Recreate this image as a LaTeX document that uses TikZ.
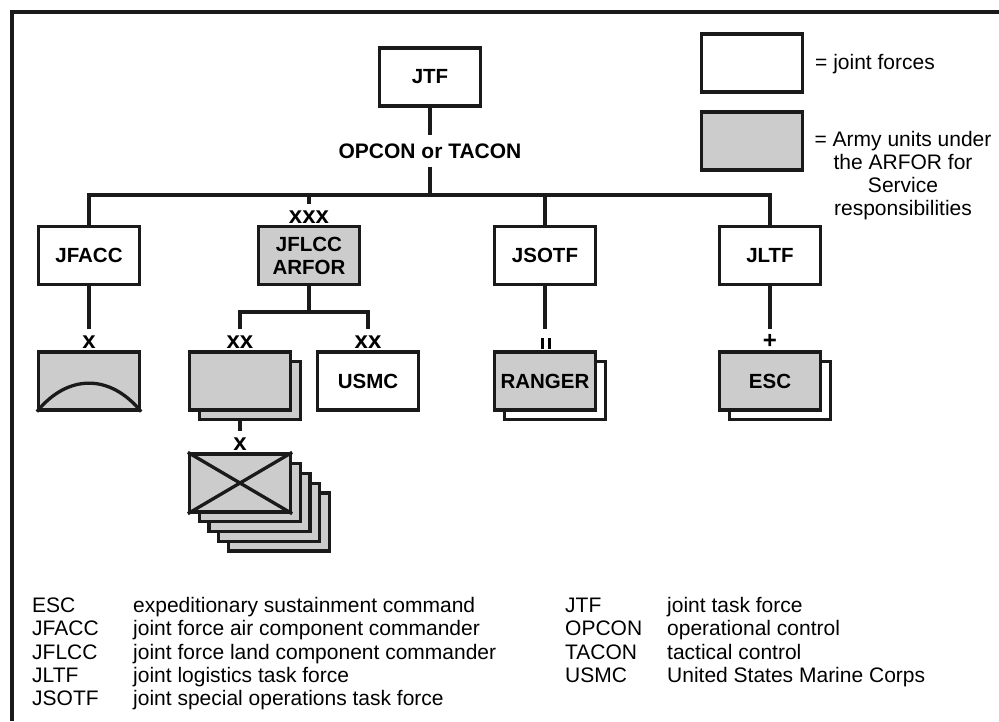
\documentclass[tikz,border=0pt]{standalone}
\usepackage{fontspec}
\setmainfont{Liberation Sans}
\definecolor{ink}{HTML}{1A1A1A}
\definecolor{unitgray}{HTML}{CCCCCC}
\begin{document}
\begin{tikzpicture}[x=1pt,y=-1pt,
  ln/.style={line width=3.3pt, draw=ink},
  box/.style={draw=ink, line width=3.3pt, fill=white, minimum width=101pt, minimum height=58pt, inner sep=0pt, font=\bfseries\fontsize{20.5}{23}\selectfont, align=center},
  gbox/.style={box, fill=unitgray},
  ech/.style={anchor=south, inner sep=0pt, outer sep=0pt, text height=19.5pt, text depth=1.7pt, font=\bfseries\fontsize{24}{24}\selectfont},
  lab/.style={anchor=base west, inner sep=0pt, font=\fontsize{21}{23}\selectfont},
]
\useasboundingbox (0,0) rectangle (999,721);
\fill[white] (0,0) rectangle (999,721);
% frame
\draw[line width=4pt, draw=ink] (11.5,721) -- (11.5,11.5) -- (999,11.5);

% top
\node[box] (jtf) at (430,77) {JTF};
\node[inner sep=0pt, minimum height=32pt, font=\bfseries\fontsize{21}{23}\selectfont] (opcon) at (430,151) {OPCON or TACON};

% level 1
\node[box]  (jfacc) at (89,255.5)  {JFACC};
\node[gbox] (jflcc) at (309,255.5) {JFLCC\\ARFOR};
\node[box]  (jsotf) at (545,255.5) {JSOTF};
\node[box]  (jltf)  at (770,255.5) {JLTF};
\node[ech] (exxx) at (jflcc.north) {xxx};

% level 2 shadows
\node[gbox] (divs) at (250,390.5) {};
\node[box]  (rangers) at (555,390.5) {};
\node[box]  (escs) at (780,390.5) {};
% level 2
\node[gbox] (ab) at (89,381) {};
\node[gbox] (div) at (240,381) {};
\node[box]  (usmc) at (368,381) {USMC};
\node[gbox] (ranger) at (545,381) {RANGER};
\node[gbox] (esc) at (770,381) {ESC};
\draw[ln] (ab.south west) .. controls +(31,-38) and +(-31,-38) .. (ab.south east);

\node[ech] (eab) at (ab.north) {x};
\node[ech] (ediv) at (div.north) {xx};
\node[ech] (eusmc) at (usmc.north) {xx};
\node[ech] (eranger) at ([xshift=1pt]ranger.north) {\rule{3pt}{11pt}\hspace{3.4pt}\rule{3pt}{11pt}};
\node[ech, font=\bfseries\fontsize{24}{24}\selectfont] (eesc) at (esc.north) {+};

% brigade stack
\node[gbox] (bde4) at (279,522) {};
\node[gbox] (bde3) at (269.25,512.25) {};
\node[gbox] (bde2) at (259.5,502.5) {};
\node[gbox] (bde1) at (249.75,492.75) {};
\node[gbox] (bde) at (240,483) {};
\draw[ln] (bde.north west) -- (bde.south east) (bde.south west) -- (bde.north east);
\node[ech] (ebde) at (bde.north) {x};

% connectors
\coordinate (bus) at (430,195);
\coordinate (b2) at (309,312);
\draw[ln] (jtf.south) -- (opcon.north);
\draw[ln] (opcon.south) -- (bus);
\draw[ln] (jfacc.north) |- (bus) -| (jltf.north);
\draw[ln] (bus -| jsotf.north) -- (jsotf.north);
\draw[ln] (bus -| exxx.north) -- (exxx.north);
\draw[ln] (jfacc.south) -- (eab.north);
\draw[ln] (jflcc.south) -- (b2);
\draw[ln] (ediv.north) |- (b2) -| (eusmc.north);
\draw[ln] (jsotf.south) -- (jsotf.south |- eranger.north);
\draw[ln] (jltf.south) -- (eesc.north);
\draw[ln] (divs.south -| div.south) -- (ebde.north);

% key boxes
\node[box]  (kjf) at (752,63) {};
\node[gbox] (kar) at (752,141) {};
\node[lab] (tjf) at (815,69) {= joint forces};
\node[anchor=north, inner sep=0pt, align=center, font=\fontsize{21}{23}\selectfont] (tar) at (903,131.5) {= Army units under\\the ARFOR for\\Service\\responsibilities};

% glossary
\node[lab] (g1) at (32,612.5) {ESC};
\node[lab] (g2) at (32,635.8) {JFACC};
\node[lab] (g3) at (32,659.1) {JFLCC};
\node[lab] (g4) at (32,682.4) {JLTF};
\node[lab] (g5) at (32,705.7) {JSOTF};
\node[lab] (d1) at (133,612.5) {expeditionary sustainment command};
\node[lab] (d2) at (133,635.8) {joint force air component commander};
\node[lab] (d3) at (133,659.1) {joint force land component commander};
\node[lab] (d4) at (133,682.4) {joint logistics task force};
\node[lab] (d5) at (133,705.7) {joint special operations task force};
\node[lab] (g6) at (565,612.5) {JTF};
\node[lab] (g7) at (565,635.8) {OPCON};
\node[lab] (g8) at (565,659.1) {TACON};
\node[lab] (g9) at (565,682.4) {USMC};
\node[lab] (d6) at (667,612.5) {joint task force};
\node[lab] (d7) at (667,635.8) {operational control};
\node[lab] (d8) at (667,659.1) {tactical control};
\node[lab] (d9) at (667,682.4) {United States Marine Corps};
\end{tikzpicture}
\end{document}
